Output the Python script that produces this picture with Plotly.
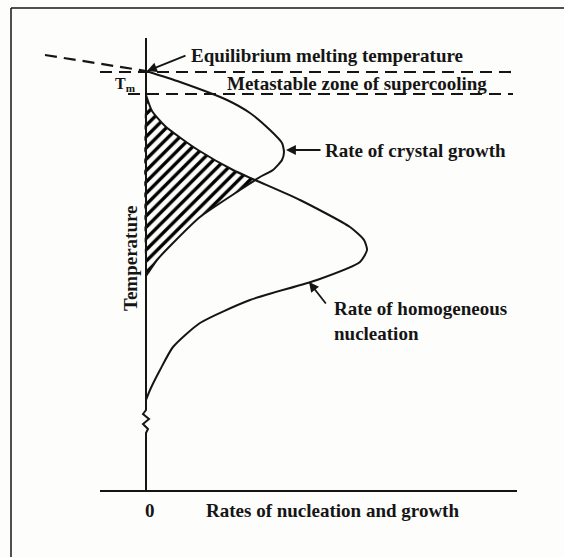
import plotly.graph_objects as go

# ---- data (arbitrary units: rate on x, temperature on y) ----
growth_rate = [0.00, 0.34, 0.81, 1.04, 1.24, 1.36, 1.38, 1.36, 1.27, 1.14, 0.94, 0.54, 0.27, 0.11, 0.02, 0.00]
growth_temp = [4.20, 4.09, 3.91, 3.78, 3.61, 3.48, 3.39, 3.31, 3.21, 3.14, 3.01, 2.74, 2.48, 2.31, 2.18, 2.15]

nucl_rate = [0.00, 0.06, 0.19, 0.36, 0.52, 0.87, 1.09, 1.54, 2.04, 2.18, 2.21, 2.14, 1.71, 1.04, 0.54, 0.27, 0.14, 0.04, 0.00]
nucl_temp = [3.96, 3.80, 3.65, 3.52, 3.41, 3.21, 3.11, 2.91, 2.64, 2.51, 2.41, 2.29, 2.11, 1.91, 1.68, 1.44, 1.21, 1.01, 0.91]

T_EQUILIBRIUM = 4.19      # equilibrium melting temperature (Tm)
T_METASTABLE = 3.97       # lower limit of metastable zone
T_CROSS = 3.11            # where the two curves cross

extension_rate = [-1.01, 0.0]   # dashed extension above Tm
extension_temp = [4.36, 4.20]

axis_rate = [0, 0, -0.03, 0.03, -0.03, 0.02, 0, 0]
axis_temp = [4.53, 0.81, 0.77, 0.72, 0.67, 0.62, 0.58, 0.0]

X_RANGE = [-1.46, 4.18]
Y_RANGE = [-0.66, 4.91]

FONT = "Liberation Serif"
INK = "#151515"
FS = 19

# hatched region: below nucleation curve above the crossing, below growth curve beneath it
hatch_rate = [r for r, t in zip(nucl_rate, nucl_temp) if t >= T_CROSS] + \
             [r for r, t in zip(growth_rate, growth_temp) if t < T_CROSS] + [0.0]
hatch_temp = [t for t in nucl_temp if t >= T_CROSS] + \
             [t for t in growth_temp if t < T_CROSS] + [nucl_temp[0]]

fig = go.Figure()

fig.add_trace(go.Scatter(
    x=hatch_rate, y=hatch_temp, mode="lines", fill="toself",
    line=dict(width=0, shape="spline", smoothing=0.5),
    fillcolor="rgba(0,0,0,0)",
    fillpattern=dict(shape="/", fgcolor="#000000", fgopacity=1, bgcolor="rgba(0,0,0,0)",
                     size=8, solidity=0.42),
    hoverinfo="skip", showlegend=False))

# axes
fig.add_trace(go.Scatter(x=axis_rate, y=axis_temp, mode="lines",
                         line=dict(color=INK, width=2), hoverinfo="skip", showlegend=False))
fig.add_trace(go.Scatter(x=[-0.46, 3.71], y=[0, 0], mode="lines",
                         line=dict(color=INK, width=2.2), hoverinfo="skip", showlegend=False))

# dashed lines
dash = "12px,7px"
fig.add_trace(go.Scatter(x=extension_rate, y=extension_temp, mode="lines",
                         line=dict(color=INK, width=2.2, dash=dash), hoverinfo="skip", showlegend=False))
fig.add_trace(go.Scatter(x=[-0.46, 3.67], y=[T_EQUILIBRIUM, T_EQUILIBRIUM], mode="lines",
                         line=dict(color=INK, width=2.2, dash=dash), hoverinfo="skip", showlegend=False))
fig.add_trace(go.Scatter(x=[-0.18, 3.67], y=[T_METASTABLE, T_METASTABLE], mode="lines",
                         line=dict(color=INK, width=2.2, dash=dash), hoverinfo="skip", showlegend=False))

# curves
fig.add_trace(go.Scatter(x=growth_rate, y=growth_temp, mode="lines", name="Rate of crystal growth",
                         line=dict(color=INK, width=2, shape="spline", smoothing=0.55), showlegend=False))
fig.add_trace(go.Scatter(x=nucl_rate, y=nucl_temp, mode="lines", name="Rate of homogeneous nucleation",
                         line=dict(color=INK, width=2, shape="spline", smoothing=0.6), showlegend=False))

def label(x, y, text, anchor="left", size=FS, angle=0):
    fig.add_annotation(x=x, y=y, xref="x", yref="y", text=text, showarrow=False,
                       xanchor=anchor, yanchor="middle", textangle=angle, align="left",
                       font=dict(family=FONT, size=size, color=INK))

def arrow(x0, y0, x1, y1):
    fig.add_annotation(x=x1, y=y1, ax=x0, ay=y0, xref="x", yref="y", axref="x", ayref="y",
                       text="", showarrow=True, arrowhead=2, arrowsize=1.1, arrowwidth=1.8,
                       arrowcolor=INK)

label(0.43, 4.36, "<b>Equilibrium melting temperature</b>")
arrow(0.41, 4.36, 0.01, 4.20)
label(-0.33, 4.07, "<b>T<sub>m</sub></b>", size=16)
label(0.79, 4.08, "<b>Metastable zone of supercooling</b>")
label(1.77, 3.41, "<b>Rate of crystal growth</b>")
arrow(1.76, 3.41, 1.40, 3.41)
label(1.86, 1.70, "<b>Rate of homogeneous<br>nucleation</b>")
arrow(1.81, 1.86, 1.63, 2.09)
label(-0.16, 2.33, "<b>Temperature</b>", anchor="center", angle=-90)
label(0.04, -0.19, "<b>0</b>", anchor="center")
label(1.86, -0.19, "<b>Rates of nucleation and growth</b>", anchor="center")

# frame of the scanned figure
fig.add_shape(type="line", xref="paper", yref="paper", x0=11/564, x1=1, y0=1-8/557, y1=1-8/557,
              line=dict(color=INK, width=1.5))
fig.add_shape(type="line", xref="paper", yref="paper", x0=11/564, x1=11/564, y0=0, y1=1-8/557,
              line=dict(color=INK, width=1.5))

fig.update_xaxes(range=X_RANGE, visible=False)
fig.update_yaxes(range=Y_RANGE, visible=False)
fig.update_layout(width=564, height=557, margin=dict(l=0, r=0, t=0, b=0),
                  paper_bgcolor="#fdfdfb", plot_bgcolor="#fdfdfb")

fig.write_html("out.html", config={"displayModeBar": False},
               post_script="document.body.style.margin='0';document.body.style.overflow='hidden';")
